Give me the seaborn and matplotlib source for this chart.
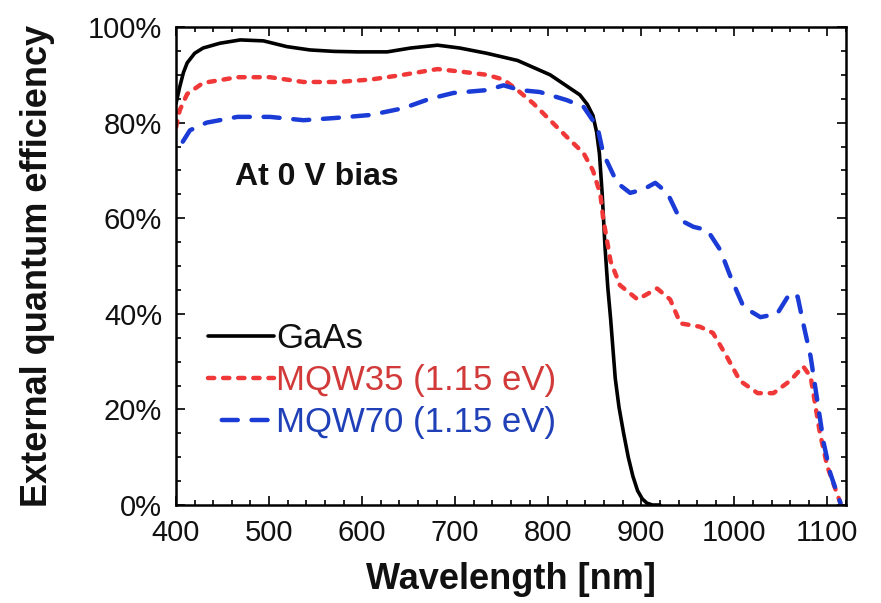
import numpy as np
import pandas as pd
import matplotlib
matplotlib.use("Agg")
import matplotlib.pyplot as plt
from matplotlib.ticker import MultipleLocator, PercentFormatter
import seaborn as sns

# External quantum efficiency spectra (wavelength in nm, EQE in %)
gaas_wl = [400, 404, 408, 412, 420, 429, 447, 469, 494, 519, 544, 570, 595, 627,
           652, 681, 705, 734, 767, 802, 834, 842, 848, 852, 855, 858, 861, 864,
           867, 870, 872, 876, 881, 886, 891, 896, 901, 906, 912, 920]
gaas_eqe = [84.0, 87.5, 90.5, 92.5, 94.5, 95.6, 96.6, 97.3, 97.1, 95.9, 95.2, 94.9,
            94.8, 94.8, 95.6, 96.2, 95.6, 94.5, 93.0, 90.0, 85.8, 83.8, 81.5, 78.0,
            73.5, 65.0, 54.0, 45.5, 39.0, 31.5, 26.5, 20.5, 15.0, 10.0, 6.0, 3.0,
            1.3, 0.4, 0.0, 0.0]

mqw35_wl = [400, 404, 412, 429, 466, 501, 537, 573, 609, 644, 681, 709, 734, 752,
            767, 784, 802, 820, 838, 848, 856, 859, 867, 877, 896, 917, 931, 942,
            963, 977, 992, 1006, 1025, 1042, 1060, 1074, 1082, 1092, 1100, 1114]
mqw35_eqe = [79.0, 82.6, 86.0, 88.3, 89.5, 89.5, 88.5, 88.5, 89.0, 90.0, 91.2, 90.6,
             90.0, 89.0, 86.8, 84.0, 80.5, 77.0, 73.6, 70.0, 65.0, 60.0, 51.0, 46.0,
             43.0, 45.3, 43.0, 38.0, 37.3, 36.0, 31.0, 26.0, 23.4, 23.4, 26.0, 29.0,
             26.8, 15.0, 8.0, 0.4]

mqw70_wl = [400, 404, 415, 433, 466, 501, 537, 573, 609, 644, 673, 698, 734, 752,
            770, 791, 820, 838, 853, 859, 874, 888, 902, 915, 928, 942, 956, 971,
            985, 996, 1010, 1028, 1046, 1060, 1068, 1074, 1082, 1089, 1096, 1103, 1114]
mqw70_eqe = [73.5, 75.0, 78.4, 80.0, 81.2, 81.2, 80.5, 81.0, 81.6, 83.0, 85.0, 86.2,
             86.8, 87.8, 86.8, 86.4, 84.7, 83.3, 79.0, 73.6, 67.4, 65.3, 66.0, 67.4,
             65.3, 59.6, 58.2, 57.5, 53.3, 47.7, 41.4, 39.3, 40.0, 44.4, 43.6, 38.0,
             31.0, 22.0, 13.0, 6.7, 0.4]

labels = ["GaAs", "MQW35 (1.15 eV)", "MQW70 (1.15 eV)"]
line_colors = ["#000000", "#f03838", "#1a3bd6"]
text_colors = ["#111111", "#d23a3a", "#2040b8"]

sns.set_theme(style="ticks")
plt.rcParams["font.family"] = ["Liberation Sans", "DejaVu Sans"]

fig = plt.figure(figsize=(8.81, 6.03), dpi=100)
ax = fig.add_axes([0.1998, 0.1625, 0.7605, 0.7927])

sns.lineplot(x=gaas_wl, y=gaas_eqe, ax=ax, color=line_colors[0], lw=2.6,
             estimator=None, sort=False, label=labels[0])
sns.lineplot(x=mqw35_wl, y=mqw35_eqe, ax=ax, color=line_colors[1], lw=3.2,
             linestyle=(0, (1.4, 2.0)), dash_capstyle="round",
             estimator=None, sort=False, label=labels[1])
sns.lineplot(x=mqw70_wl, y=mqw70_eqe, ax=ax, color=line_colors[2], lw=3.2,
             linestyle=(3.6, (3.6, 3.1)), dash_capstyle="round",
             estimator=None, sort=False, label=labels[2])

ax.set_xlim(400, 1120)
ax.set_ylim(0, 100)
ax.xaxis.set_major_locator(MultipleLocator(100))
ax.xaxis.set_minor_locator(MultipleLocator(20))
ax.yaxis.set_major_locator(MultipleLocator(20))
ax.yaxis.set_minor_locator(MultipleLocator(5))
ax.yaxis.set_major_formatter(PercentFormatter(decimals=0))

ax.tick_params(which="both", direction="in", top=True, right=True,
               color="black", width=1.2)
ax.tick_params(which="major", length=6.5, labelsize=21, pad=10, labelcolor="#111111")
ax.tick_params(which="minor", length=3.6)
for s in ax.spines.values():
    s.set_linewidth(1.8)
    s.set_color("black")

ax.set_xlabel("Wavelength [nm]", fontsize=26, fontweight="bold", labelpad=11,
              color="#111111")
ax.set_ylabel("External quantum efficiency", fontsize=26, fontweight="bold",
              labelpad=24, color="#111111")

ax.text(463, 67, "At 0 V bias", fontsize=23, fontweight="bold", color="#111111")

leg = ax.legend(loc="upper left", bbox_to_anchor=(0.048, 0.382), frameon=False,
                fontsize=25, handlelength=1.9, handletextpad=0.05,
                labelspacing=0.26, borderpad=0, borderaxespad=0)
for txt, c in zip(leg.get_texts(), text_colors):
    txt.set_color(c)

fig.savefig("out.png", dpi=100)
